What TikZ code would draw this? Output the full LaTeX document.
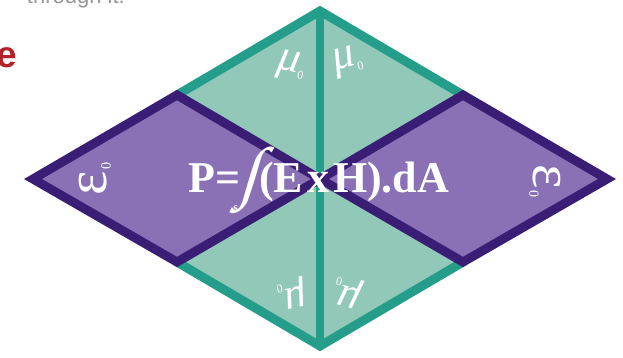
\documentclass[tikz,border=0pt]{standalone}
\usepackage{fontspec}
\newfontfamily\sansf{Liberation Sans}
\newfontfamily\grkf{Liberation Serif}
\newfontfamily\intf{Liberation Serif}[FakeSlant=0.3]
\definecolor{tealline}{RGB}{36,158,138}
\definecolor{tealfill}{RGB}{145,200,183}
\definecolor{purpfill}{RGB}{138,113,181}
\definecolor{purpline}{RGB}{58,30,118}
\definecolor{redtxt}{RGB}{178,34,40}
\definecolor{graytxt}{RGB}{150,150,150}
\newcommand\myeps{{\grkf\fontsize{58}{58}\selectfont ε}\kern1pt\raisebox{-4pt}{\grkf\fontsize{14}{14}\selectfont 0}}
\newcommand\mymu{{\grkf\itshape\fontsize{44}{44}\selectfont μ}\kern0pt\raisebox{-6pt}{\grkf\fontsize{12}{12}\selectfont 0}}
\newcommand\myint{\kern-2pt\raisebox{-3pt}{\intf\mdseries\fontsize{68}{68}\selectfont ∫}\kern-24pt\raisebox{-19pt}{\fontsize{12}{12}\selectfont s}\kern21pt}
\begin{document}
\begin{tikzpicture}[x=1pt,y=-1pt,line join=miter,
  tealedge/.style={draw=tealline,line width=9pt},
  purpbox/.style={fill=purpfill,draw=purpline,line width=9pt},
  lbl/.style={text=white,inner sep=0pt}]
\useasboundingbox (0,0) rectangle (623,357);
\fill[white] (0,0) rectangle (623,357);
\coordinate (T) at (320,11);
\coordinate (B) at (320,346);
\coordinate (L) at (33,179);
\coordinate (R) at (607,179);
\coordinate (C) at (320,179);
\coordinate (TL) at (177,95);
\coordinate (TR) at (463,95);
\coordinate (BL) at (177,262);
\coordinate (BR) at (463,262);
% teal rhombi
\fill[tealfill] (TL) -- (T) -- (TR) -- (C) -- cycle;
\fill[tealfill] (BL) -- (C) -- (BR) -- (B) -- cycle;
\draw[tealedge] (TL) -- (T) -- (TR);
\draw[tealedge] (BL) -- (B) -- (BR);
\draw[tealline,line width=8pt] (T) -- (B);
% purple rhombi
\draw[purpbox] (L) -- (TL) -- (C) -- (BL) -- cycle;
\draw[purpbox] (R) -- (TR) -- (C) -- (BR) -- cycle;
% labels
\node[lbl,rotate=90] (epsL) at (95,179) {\myeps};
\node[lbl,rotate=-90] (epsR) at (545,181) {\myeps};
\node[lbl,rotate=-12] (muTL) at (291,66) {\mymu};
\node[lbl,rotate=15] (muTR) at (348,62) {\mymu};
\node[lbl,rotate=192] (muBL) at (292,294) {\mymu};
\node[lbl,rotate=165] (muBR) at (348,292) {\mymu};
\node[lbl,anchor=base,font=\grkf\bfseries\fontsize{44}{44}\selectfont] (F) at (319,192)
  {P=\myint(E{\kern4pt}x{\kern4pt}H).dA};
% cut-off surrounding text
\begin{scope}
\clip (0,0) rectangle (623,357);
\node[anchor=base east,text=graytxt,inner sep=0pt,font=\sansf\fontsize{22}{22}\selectfont] (cap) at (125,3) {through it.};
\node[anchor=east,text=redtxt,inner sep=0pt,font=\sansf\bfseries\fontsize{37}{37}\selectfont] (hd) at (17,58) {e};
\end{scope}
\end{tikzpicture}
\end{document}
